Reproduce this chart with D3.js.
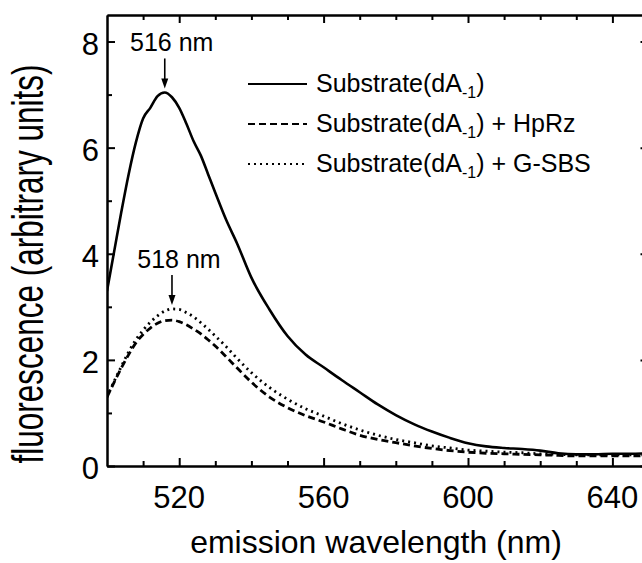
<!DOCTYPE html>
<html>
<head>
<meta charset="utf-8">
<script src="https://cdn.jsdelivr.net/npm/d3@7"></script>
<style>
  html, body { margin: 0; padding: 0; background: #ffffff; }
  svg { display: block; }
  text { font-family: "Liberation Sans", Arial, Helvetica, sans-serif; fill: #000; }
</style>
</head>
<body>
<svg id="chart" width="642" height="563"></svg>
<script>
// ---- data ----
const wavelengths = [500, 502, 504, 506, 508, 510, 512, 514, 516, 518, 520, 522, 524, 526, 528, 530, 533, 536, 540, 545, 550, 555, 560, 565, 570, 575, 580, 585, 590, 595, 600, 605, 610, 615, 620, 625, 630, 635, 640, 645, 650];
const substrate = [3.3, 4.05, 4.8, 5.5, 6.1, 6.55, 6.75, 6.97, 7.04, 6.95, 6.75, 6.45, 6.12, 5.85, 5.5, 5.15, 4.64, 4.2, 3.55, 2.95, 2.45, 2.1, 1.86, 1.62, 1.39, 1.16, 0.96, 0.79, 0.65, 0.53, 0.43, 0.37, 0.34, 0.32, 0.29, 0.24, 0.22, 0.22, 0.23, 0.23, 0.24];
const substrateHpRz = [1.3, 1.58, 1.85, 2.1, 2.32, 2.48, 2.6, 2.69, 2.74, 2.75, 2.72, 2.66, 2.58, 2.49, 2.38, 2.26, 2.06, 1.85, 1.58, 1.3, 1.1, 0.95, 0.83, 0.7, 0.58, 0.5, 0.44, 0.38, 0.33, 0.29, 0.26, 0.24, 0.23, 0.22, 0.21, 0.2, 0.19, 0.19, 0.19, 0.19, 0.19];
const substrateGSBS = [1.3, 1.6, 1.88, 2.15, 2.38, 2.56, 2.71, 2.83, 2.92, 2.96, 2.95, 2.89, 2.81, 2.7, 2.58, 2.45, 2.25, 2.03, 1.76, 1.48, 1.26, 1.08, 0.94, 0.8, 0.68, 0.58, 0.5, 0.44, 0.38, 0.34, 0.3, 0.28, 0.26, 0.25, 0.23, 0.22, 0.21, 0.21, 0.21, 0.21, 0.21];

const xMajorTicks = [520, 560, 600, 640];
const xMinorTicks = [510, 530, 540, 550, 570, 580, 590, 610, 620, 630, 650];
const yMajorTicks = [0, 2, 4, 6, 8];
const yMinorTicks = [1, 3, 5, 7];

const seriesNames = ["Substrate(dA", "Substrate(dA", "Substrate(dA"];
const seriesSuffix = ["", " + HpRz", " + G-SBS"];
const seriesDash = [null, "7,4", "2,4"];
const peaks = [{label: "516 nm", x: 516, y: 7.04}, {label: "518 nm", x: 518, y: 2.96}];

// ---- layout ----
const svg = d3.select("#chart");
const mLeft = 107, mRight = 648.5, mTop = 15, mBottom = 466;
const x = d3.scaleLinear().domain([500, 650]).range([mLeft, mRight]);
const y = d3.scaleLinear().domain([0, 8.5]).range([mBottom, mTop]);

const major = 8, minor = 5;

// axes (ticks pointing inward)
svg.append("g").attr("transform", `translate(0,${mBottom})`)
  .call(d3.axisTop(x).tickValues(xMajorTicks).tickSize(major).tickSizeOuter(0).tickFormat(""));
svg.append("g").attr("transform", `translate(0,${mBottom})`)
  .call(d3.axisTop(x).tickValues(xMinorTicks).tickSize(minor).tickSizeOuter(0).tickFormat(""));
svg.append("g").attr("transform", `translate(0,${mTop})`)
  .call(d3.axisBottom(x).tickValues(xMajorTicks).tickSize(major).tickSizeOuter(0).tickFormat(""));
svg.append("g").attr("transform", `translate(0,${mTop})`)
  .call(d3.axisBottom(x).tickValues(xMinorTicks).tickSize(minor).tickSizeOuter(0).tickFormat(""));
svg.append("g").attr("transform", `translate(${mLeft},0)`)
  .call(d3.axisRight(y).tickValues(yMajorTicks).tickSize(major).tickSizeOuter(0).tickFormat(""));
svg.append("g").attr("transform", `translate(${mLeft},0)`)
  .call(d3.axisRight(y).tickValues(yMinorTicks).tickSize(minor).tickSizeOuter(0).tickFormat(""));
svg.append("g").attr("transform", `translate(${mRight},0)`)
  .call(d3.axisLeft(y).tickValues(yMajorTicks).tickSize(major).tickSizeOuter(0).tickFormat(""));
svg.append("g").attr("transform", `translate(${mRight},0)`)
  .call(d3.axisLeft(y).tickValues(yMinorTicks).tickSize(minor).tickSizeOuter(0).tickFormat(""));

svg.selectAll(".domain").attr("stroke", "#000").attr("stroke-width", 2);
svg.selectAll(".tick line").attr("stroke", "#000").attr("stroke-width", 2);

// tick labels
svg.append("g").selectAll("text").data(xMajorTicks).join("text")
  .attr("x", d => x(d)).attr("y", 508)
  .attr("text-anchor", "middle").attr("font-size", 31)
  .text(d => d);
svg.append("g").selectAll("text").data(yMajorTicks).join("text")
  .attr("x", 99).attr("y", d => y(d) + 13)
  .attr("text-anchor", "end").attr("font-size", 31)
  .text(d => d);

// axis titles
svg.append("text").attr("x", 376).attr("y", 553)
  .attr("text-anchor", "middle").attr("font-size", 32)
  .text("emission wavelength (nm)");
svg.append("text")
  .attr("transform", "translate(43,264) rotate(-90) scale(1,1.38)")
  .attr("text-anchor", "middle").attr("font-size", 31.5)
  .text("fluorescence (arbitrary units)");

// curves
const allSeries = [substrate, substrateHpRz, substrateGSBS];
const line = d3.line().x(d => x(d[0])).y(d => y(d[1])).curve(d3.curveMonotoneX);
svg.append("clipPath").attr("id", "clip").append("rect")
  .attr("x", mLeft).attr("y", mTop).attr("width", mRight - mLeft).attr("height", mBottom - mTop);
allSeries.forEach((vals, i) => {
  svg.append("path")
    .datum(wavelengths.map((w, k) => [w, vals[k]]))
    .attr("clip-path", "url(#clip)")
    .attr("fill", "none").attr("stroke", "#000")
    .attr("stroke-width", i === 0 ? 2.6 : 2.8)
    .attr("stroke-dasharray", seriesDash[i])
    .attr("d", line);
});

// peak annotations
peaks.forEach(p => {
  const px = x(p.x), py = y(p.y);
  const tipY = py - 4, tailY = tipY - 30;
  svg.append("line").attr("x1", px).attr("x2", px).attr("y1", tailY).attr("y2", tipY - 6)
    .attr("stroke", "#000").attr("stroke-width", 1.6);
  svg.append("path")
    .attr("d", `M${px - 3.5},${tipY - 10} L${px + 3.5},${tipY - 10} L${px},${tipY} Z`)
    .attr("fill", "#000");
  svg.append("text").attr("x", px + 7).attr("y", tailY - 7)
    .attr("text-anchor", "middle").attr("font-size", 25)
    .text(p.label);
});

// legend
const legX1 = 248, legX2 = 307, legTextX = 316;
const rowY = [84, 124, 164];
seriesNames.forEach((name, i) => {
  svg.append("line").attr("x1", legX1).attr("x2", legX2)
    .attr("y1", rowY[i]).attr("y2", rowY[i])
    .attr("stroke", "#000").attr("stroke-width", 2.2)
    .attr("stroke-dasharray", seriesDash[i]);
  const t = svg.append("text").attr("x", legTextX).attr("y", rowY[i] + 8).attr("font-size", 25);
  t.append("tspan").text(name);
  t.append("tspan").attr("font-size", 16).attr("dy", 6).text("-1");
  t.append("tspan").attr("dy", -6).text(")" + seriesSuffix[i]);
});
</script>
</body>
</html>
